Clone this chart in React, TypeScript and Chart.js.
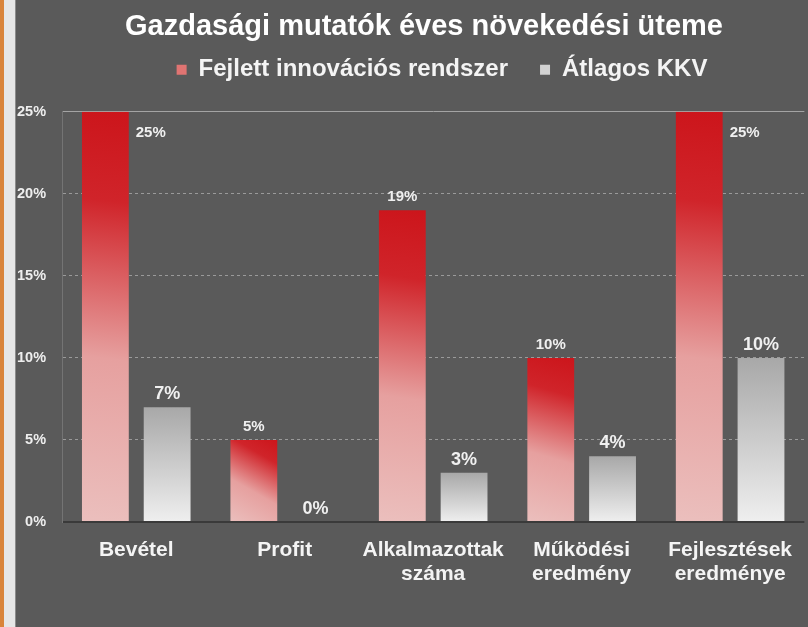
import React, { useEffect, useRef } from "react";
import { Chart, registerables } from "chart.js";

Chart.register(...registerables);

const TITLE = "Gazdasági mutatók éves növekedési üteme";
const CATEGORIES: string[][] = [
  ["Bevétel"],
  ["Profit"],
  ["Alkalmazottak", "száma"],
  ["Működési", "eredmény"],
  ["Fejlesztések", "eredménye"],
];
const SERIES_NAMES = ["Fejlett innovációs rendszer", "Átlagos KKV"];
const ADVANCED = [25, 5, 19, 10, 25];
const AVERAGE_SME = [7, 0, 3, 4, 10];
const Y_TICKS = [0, 5, 10, 15, 20, 25];

const FONT = "'Liberation Sans', Arial, sans-serif";
const CAT_PCT = 0.832;
const BAR_PCT = 0.758;
const LEGEND_SHIFT_Y = 19;
const LEGEND_SHIFT_X = 35;
const TITLE_SHIFT_X = 17;
const LEGEND_HEIGHT = 67;

function barGeom(c: any) {
  const chart = c.chart;
  const { scales } = chart;
  const xs = scales.x;
  const ys = scales.y;
  const n = CATEGORIES.length;
  const slot = (xs.width / n) * CAT_PCT / 2;
  const w = slot * BAR_PCT;
  const cx = xs.getPixelForValue(c.dataIndex) + (c.datasetIndex - 0.5) * slot;
  const top = ys.getPixelForValue(c.raw);
  const base = ys.getPixelForValue(0);
  return { cx, w, top, base };
}

function redFill(c: any) {
  const chart = c.chart;
  if (!chart.chartArea || c.type !== "data" || !chart.scales.x) return "#d23a3c";
  const { cx, w, top, base } = barGeom(c);
  if (Math.abs(base - top) < 1) return "#e8b8b6";
  const g = chart.ctx.createLinearGradient(cx + w / 2, top, cx - w / 2, base);
  g.addColorStop(0, "#cc151b");
  g.addColorStop(0.22, "#d0242a");
  g.addColorStop(0.6, "#e6a09f");
  g.addColorStop(1, "#ebbfbd");
  return g;
}

function grayFill(c: any) {
  const chart = c.chart;
  if (!chart.chartArea || c.type !== "data" || !chart.scales.x) return "#cccccc";
  const { top, base } = barGeom(c);
  if (Math.abs(base - top) < 1) return "#eeeeee";
  const g = chart.ctx.createLinearGradient(0, top, 0, base);
  g.addColorStop(0, "#a8a8a8");
  g.addColorStop(1, "#efefef");
  return g;
}

const backgroundPlugin = {
  id: "bgDecor",
  beforeDraw(chart: any) {
    const { ctx, width, height } = chart;
    ctx.save();
    ctx.fillStyle = "#5a5a5a";
    ctx.fillRect(0, 0, width, height);
    ctx.fillStyle = "#d9843a";
    ctx.fillRect(0, 0, 4, height);
    ctx.fillStyle = "#e6e6e6";
    ctx.fillRect(4, 0, 11, height);
    ctx.fillStyle = "#8c8c8c";
    ctx.fillRect(15, 0, 1, height);
    ctx.restore();
  },
};

function shiftDraw(box: any, dx: number, dy: number) {
  const draw = box.draw;
  box.draw = function (this: any, ...args: any[]) {
    this.ctx.save();
    this.ctx.translate(dx, dy);
    draw.apply(this, args);
    this.ctx.restore();
  };
}

const headerAdjust = {
  id: "headerAdjust",
  beforeInit(chart: any) {
    const lg = chart.legend;
    if (lg) {
      const fit = lg.fit;
      lg.fit = function (this: any) {
        fit.call(this);
        this.height = LEGEND_HEIGHT;
      };
      shiftDraw(lg, LEGEND_SHIFT_X, -LEGEND_SHIFT_Y);
    }
    if (chart.titleBlock) shiftDraw(chart.titleBlock, TITLE_SHIFT_X, 0);
  },
};

const valueLabels = {
  id: "valueLabels",
  afterDatasetsDraw(chart: any) {
    const { ctx } = chart;
    const yMax = chart.scales.y.max;
    ctx.save();
    ctx.fillStyle = "#f0f0f0";
    ctx.textAlign = "center";
    ctx.textBaseline = "middle";
    chart.data.datasets.forEach((ds: any, di: number) => {
      const meta = chart.getDatasetMeta(di);
      ctx.font = di === 0 ? `bold 15px ${FONT}` : `bold 18px ${FONT}`;
      meta.data.forEach((bar: any, i: number) => {
        const v = ds.data[i];
        const text = `${v}%`;
        if (v >= yMax) {
          ctx.fillText(text, bar.x + bar.width / 2 + 22, bar.y + 21);
        } else {
          ctx.fillText(text, bar.x, bar.y - 13);
        }
      });
    });
    ctx.restore();
  },
};

export default function App() {
  const ref = useRef<HTMLCanvasElement | null>(null);

  useEffect(() => {
    document.body.style.margin = "0";
    const canvas = ref.current;
    if (!canvas) return;
    const chart = new Chart(canvas, {
      type: "bar",
      data: {
        labels: CATEGORIES,
        datasets: [
          {
            label: SERIES_NAMES[0],
            data: ADVANCED,
            backgroundColor: redFill,
            borderWidth: 0,
            categoryPercentage: CAT_PCT,
            barPercentage: BAR_PCT,
          },
          {
            label: SERIES_NAMES[1],
            data: AVERAGE_SME,
            backgroundColor: grayFill,
            borderWidth: 0,
            categoryPercentage: CAT_PCT,
            barPercentage: BAR_PCT,
          },
        ],
      },
      options: {
        animation: false,
        responsive: false,
        maintainAspectRatio: false,
        layout: { padding: { top: 10, left: 1, right: -5, bottom: 25 } },
        plugins: {
          title: {
            display: true,
            text: TITLE,
            color: "#ffffff",
            font: { family: FONT, size: 29, weight: "bold", lineHeight: 1.2 },
            padding: { top: 0, bottom: 0 },
          },
          legend: {
            display: true,
            position: "top",
            labels: {
              color: "#f4f4f4",
              font: { family: FONT, size: 24, weight: "bold" },
              boxWidth: 10,
              boxHeight: 10,
              padding: 32,
              generateLabels: () => [
                { text: SERIES_NAMES[0], fillStyle: "#e07472", strokeStyle: "#e07472", lineWidth: 0, datasetIndex: 0, fontColor: "#f4f4f4" } as any,
                { text: SERIES_NAMES[1], fillStyle: "#d2d2d2", strokeStyle: "#d2d2d2", lineWidth: 0, datasetIndex: 1, fontColor: "#f4f4f4" } as any,
              ],
            },
          },
          tooltip: { enabled: false },
        },
        scales: {
          x: {
            grid: { display: false, drawTicks: false },
            border: { display: false },
            ticks: {
              color: "#f4f4f4",
              font: { family: FONT, size: 21, weight: "bold", lineHeight: 24 / 21 },
              padding: 16,
              maxRotation: 0,
              autoSkip: false,
            },
          },
          y: {
            min: 0,
            max: 25,
            afterBuildTicks: (scale: any) => {
              scale.ticks = Y_TICKS.map((v) => ({ value: v }));
            },
            grid: {
              drawTicks: false,
              color: (c: any) => (c.tick && c.tick.value === 0 ? "#3a3a3a" : c.tick && c.tick.value === 25 ? "#a4a4a4" : "#9a9a9a"),
              lineWidth: (c: any) => (c.tick && c.tick.value === 0 ? 2 : 1),
            },
            border: {
              display: true,
              color: "#747474",
              width: 1,
              dash: (c: any) => (c.tick && (c.tick.value === 0 || c.tick.value === 25) ? [] : [3, 3]),
            },
            ticks: {
              color: "#eeeeee",
              font: { family: FONT, size: 14.5, weight: "bold" },
              padding: 16,
              callback: (v: any) => `${v}%`,
            },
          },
        },
      },
      plugins: [backgroundPlugin, headerAdjust, valueLabels],
    } as any);
    return () => chart.destroy();
  }, []);

  return (
    <div style={{ width: 808, height: 627, position: "relative" }}>
      <canvas ref={ref} width={808} height={627} style={{ display: "block", width: 808, height: 627 }} />
    </div>
  );
}
